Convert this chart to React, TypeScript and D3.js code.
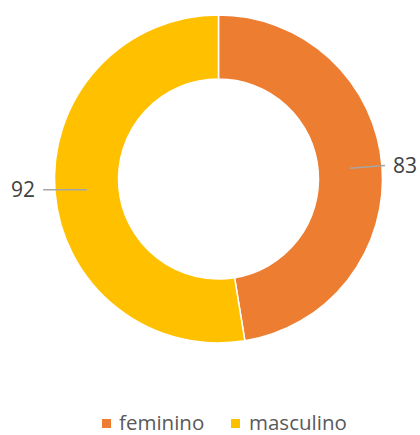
import React from 'react';
import * as d3 from 'd3';

const categories = ['feminino', 'masculino'];
const values = [83, 92];
const colors = ['#ED7D31', '#FFC000'];

const width = 420;
const height = 435;

const App = () => {
    const cx = 218.5;
    const cy = 179;
    const outerR = 164;
    const innerR = 100;

    const pie = d3.pie<number>().sort(null).value(d => d);
    const arcs = pie(values);
    const arc = d3.arc<d3.PieArcDatum<number>>().innerRadius(innerR).outerRadius(outerR);

    // leader lines go from mid ring to just outside the donut
    const midR = (innerR + outerR) / 2;
    const polar = (a: number, r: number) => [Math.sin(a) * r, -Math.cos(a) * r];

    // legend layout
    const legendY = 423;
    const legendItems = [
        { x: 102, textX: 119 },
        { x: 231, textX: 249 },
    ];

    return (
        <svg width={width} height={height} style={{ position: 'absolute', left: 0, top: 0, fontFamily: '"Open Sans", sans-serif' }}>
            <rect width={width} height={height} fill="#fff" />
            <g transform={`translate(${cx},${cy})`}>
                {arcs.map((a, i) => (
                    <path key={categories[i]} d={arc(a) || ''} fill={colors[i]} stroke="#fff" strokeWidth={1.5} />
                ))}
                {arcs.map((a, i) => {
                    const mid = (a.startAngle + a.endAngle) / 2;
                    const [x0, y0] = polar(mid, midR);
                    const right = x0 > 0;
                    const [x1, y1] = polar(mid, right ? 167 : 176);
                    return (
                        <g key={'lbl' + i}>
                            <line x1={x0} y1={y0} x2={x1} y2={right ? y1 : y0} stroke="#A6A6A6" strokeWidth={1.5} />
                            <text
                                x={right ? x1 + 8 : x1 - 8}
                                y={right ? y1 : y0}
                                dy="0.35em"
                                textAnchor={right ? 'start' : 'end'}
                                fontSize={21}
                                fill="#404040"
                            >
                                {values[i]}
                            </text>
                        </g>
                    );
                })}
            </g>
            {categories.map((c, i) => (
                <g key={c}>
                    <rect x={legendItems[i].x} y={legendY - 4} width={9} height={9} fill={colors[i]} />
                    <text x={legendItems[i].textX} y={legendY} dy="0.35em" fontSize={20.5} fill="#595959">{c}</text>
                </g>
            ))}
        </svg>
    );
};

export default App;
